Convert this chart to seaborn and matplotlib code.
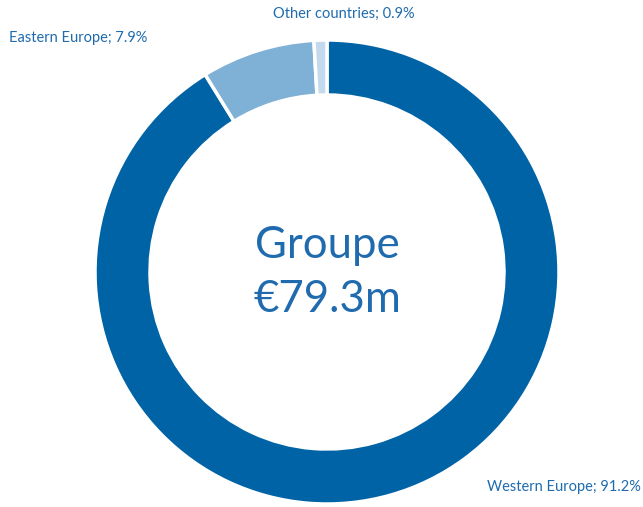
import matplotlib
matplotlib.use("Agg")
import matplotlib.pyplot as plt
import seaborn as sns

regions = ["Western Europe", "Eastern Europe", "Other countries"]
shares = [91.2, 7.9, 0.9]
colors = ["#0063A6", "#7FB0D5", "#C3DAEE"]
center_lines = ["Groupe", "€79.3m"]

sns.set_theme(style="white")
plt.rcParams['font.family'] = ['Lato', 'DejaVu Sans']

W, H = 643, 507
fig = plt.figure(figsize=(W / 100, H / 100), dpi=100)
cx, cy, R = 327, 272, 232
ax = fig.add_axes([(cx - R) / W, (H - cy - R) / H, 2 * R / W, 2 * R / H])
ax.pie(shares, colors=colors, startangle=90, counterclock=False, radius=1,
       wedgeprops=dict(width=55 / 232, edgecolor="white", linewidth=2.5))
ax.set_xlim(-1, 1)
ax.set_ylim(-1, 1)
ax.axis("off")

tc = "#1F6BAE"
def px(x, y):
    return x / W, 1 - y / H

fig.text(*px(327, 246), center_lines[0], ha="center", va="center", fontsize=31.5, color=tc)
fig.text(*px(327, 299), center_lines[1], ha="center", va="center", fontsize=31.5, color=tc)

labels = [f"{r}; {s}%" for r, s in zip(regions, shares)]
fig.text(*px(487, 487), labels[0], ha="left", va="center", fontsize=10.5, color=tc)
fig.text(*px(9, 38), labels[1], ha="left", va="center", fontsize=10.5, color=tc)
fig.text(*px(273, 14), labels[2], ha="left", va="center", fontsize=10.5, color=tc)

fig.savefig("out.png", dpi=100, facecolor="white")
